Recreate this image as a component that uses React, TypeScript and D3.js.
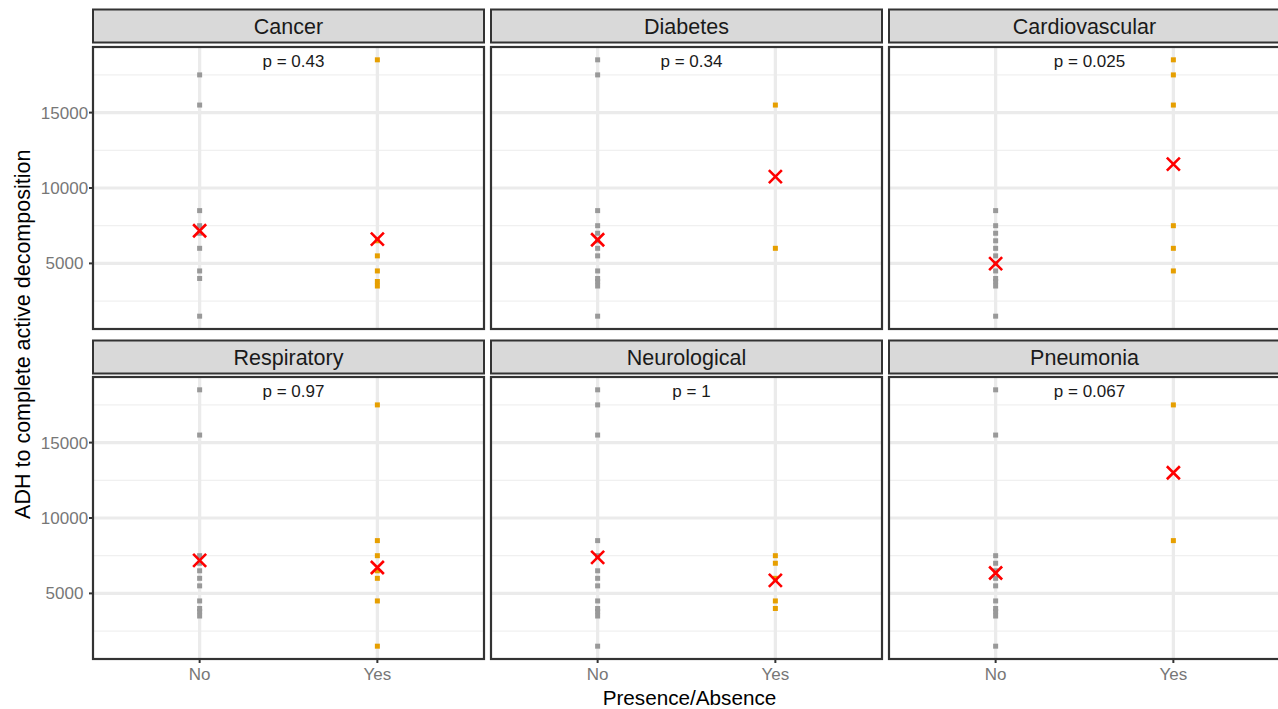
import React from "react";
import * as d3 from "d3";

// Facet panels, in reading order
const conditions = ["Cancer", "Diabetes", "Cardiovascular", "Respiratory", "Neurological", "Pneumonia"];
const pLabels = ["p = 0.43", "p = 0.34", "p = 0.025", "p = 0.97", "p = 1", "p = 0.067"];
const groups = ["No", "Yes"];

// ADH values for individuals without the condition
const noValues: number[][] = [
  [17500, 15500, 8500, 7500, 7000, 6000, 4500, 4000, 1500],
  [18500, 17500, 8500, 7500, 7000, 6500, 6000, 5500, 4500, 4000, 3800, 3500, 1500],
  [8500, 7500, 7000, 6500, 6000, 5500, 5000, 4500, 4000, 3800, 3500, 1500],
  [18500, 15500, 7500, 7000, 6500, 6000, 5500, 4500, 4000, 3800, 3500],
  [18500, 17500, 15500, 8500, 7500, 6500, 6000, 5500, 4500, 4000, 3800, 3500, 1500],
  [18500, 15500, 7500, 7000, 6500, 6000, 5500, 4500, 4000, 3800, 3500, 1500],
];

// ADH values for individuals with the condition
const yesValues: number[][] = [
  [18500, 6500, 5500, 4500, 3800, 3500],
  [15500, 6000],
  [18500, 17500, 15500, 7500, 6000, 4500],
  [17500, 8500, 7500, 6500, 6000, 4500, 1500],
  [7500, 7000, 6000, 4500, 4000],
  [17500, 8500],
];

// Group means (red crosses)
const noMeans = [7165, 6570, 4980, 7185, 7385, 6350];
const yesMeans = [6615, 10750, 11583, 6720, 5860, 13000];

const yMajorTicks = [5000, 10000, 15000];
const yMinorTicks = [2500, 7500, 12500, 17500];
const yDomain: [number, number] = [650, 19350];

const FONT = "'Liberation Sans', Arial, Helvetica, sans-serif";
const W = 1278;
const H = 709;

const colLeft = [93, 491, 889];
const panelW = 391;
const stripTop = [9.5, 340.5];
const stripH = 33;
const panelTop = [47, 377];
const panelH = 282;

const groupColors = ["#999999", "#E69F00"];

export default function App() {
  const x = d3.scaleLinear().domain([0.4, 2.6]).range([0, panelW]);
  const y = d3.scaleLinear().domain(yDomain).range([panelH, 0]);
  const pt = 5;

  return (
    <svg
      width={W}
      height={H}
      style={{ position: "absolute", left: 0, top: 0, background: "#fff" }}
      fontFamily={FONT}
    >
      <rect x={0} y={0} width={W} height={H} fill="#fff" />
      {conditions.map((cond, i) => {
        const row = Math.floor(i / 3);
        const col = i % 3;
        const px = colLeft[col];
        const py = panelTop[row];
        const series = [noValues[i], yesValues[i]];
        const means = [noMeans[i], yesMeans[i]];
        return (
          <g key={cond}>
            {/* strip */}
            <rect
              x={px}
              y={stripTop[row]}
              width={panelW}
              height={stripH}
              fill="#d9d9d9"
              stroke="#333"
              strokeWidth={2}
            />
            <text
              x={px + panelW / 2}
              y={stripTop[row] + stripH / 2}
              dy="0.36em"
              textAnchor="middle"
              fontSize={21.5}
              fill="#1a1a1a"
            >
              {cond}
            </text>
            <g transform={`translate(${px},${py})`}>
              <rect x={0} y={0} width={panelW} height={panelH} fill="#fff" />
              {yMinorTicks.map((t) => (
                <line key={"mi" + t} x1={0} x2={panelW} y1={y(t)} y2={y(t)} stroke="#f0f0f0" strokeWidth={1.3} />
              ))}
              {yMajorTicks.map((t) => (
                <line key={"ma" + t} x1={0} x2={panelW} y1={y(t)} y2={y(t)} stroke="#ebebeb" strokeWidth={3.2} />
              ))}
              {groups.map((g, gi) => (
                <line key={"v" + g} x1={x(gi + 1)} x2={x(gi + 1)} y1={0} y2={panelH} stroke="#ebebeb" strokeWidth={3.2} />
              ))}
              {series.map((vals, gi) =>
                vals.map((v, k) => (
                  <rect
                    key={gi + "-" + k}
                    x={x(gi + 1) - pt / 2}
                    y={y(v) - pt / 2}
                    width={pt}
                    height={pt}
                    fill={groupColors[gi]}
                  />
                ))
              )}
              {means.map((m, gi) => {
                const cx = x(gi + 1);
                const cy = y(m);
                const a = 6.5;
                return (
                  <path
                    key={"m" + gi}
                    d={`M${cx - a},${cy - a}L${cx + a},${cy + a}M${cx - a},${cy + a}L${cx + a},${cy - a}`}
                    stroke="#ff0000"
                    strokeWidth={2.6}
                  />
                );
              })}
              <text x={panelW / 2 + 5} y={20} textAnchor="middle" fontSize={17} fill="#1a1a1a">
                {pLabels[i]}
              </text>
              <rect x={0} y={0} width={panelW} height={panelH} fill="none" stroke="#333" strokeWidth={2.2} />
              {/* y axis on first column */}
              {col === 0 &&
                yMajorTicks.map((t) => (
                  <g key={"yt" + t}>
                    <line x1={-4} x2={0} y1={y(t)} y2={y(t)} stroke="#333" strokeWidth={2} />
                    <text x={-28.5} y={y(t)} dy="0.35em" textAnchor="middle" fontSize={17} fill="#777">
                      {t}
                    </text>
                  </g>
                ))}
              {/* x axis on bottom row */}
              {row === 1 &&
                groups.map((g, gi) => (
                  <g key={"xt" + g}>
                    <line x1={x(gi + 1)} x2={x(gi + 1)} y1={panelH} y2={panelH + 4} stroke="#333" strokeWidth={2} />
                    <text x={x(gi + 1)} y={panelH + 15} dy="0.36em" textAnchor="middle" fontSize={17} fill="#777">
                      {g}
                    </text>
                  </g>
                ))}
            </g>
          </g>
        );
      })}
      <text x={(colLeft[0] + colLeft[2] + panelW) / 2 + 3} y={705} textAnchor="middle" fontSize={20.7} fill="#000">
        Presence/Absence
      </text>
      <text
        transform={`translate(30,${(stripTop[0] + panelTop[1] + panelH) / 2}) rotate(-90)`}
        textAnchor="middle"
        fontSize={21.5}
        fill="#000"
      >
        ADH to complete active decomposition
      </text>
    </svg>
  );
}
